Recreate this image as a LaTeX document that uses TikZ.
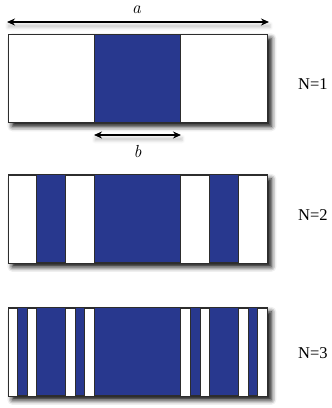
\documentclass[tikz,border=0pt]{standalone}
\usepackage{fontspec}
\newfontfamily\timesfont{Liberation Serif}
\usetikzlibrary{shadows.blur,arrows.meta}
\definecolor{stripblue}{RGB}{40,56,142}
\definecolor{edgegray}{RGB}{45,45,45}
\begin{document}
\begin{tikzpicture}[x=1pt,y=-1pt,
  bar/.style={fill=white,draw=edgegray,line width=0.7pt,inner sep=0pt,
    minimum width=259pt,minimum height=88pt,anchor=north west,
    blur shadow={shadow xshift=4pt,shadow yshift=-4pt,
      shadow blur radius=5pt,shadow opacity=100}},
  strip/.style={fill=stripblue,draw=edgegray,line width=0.6pt},
  rim/.style={draw=edgegray,line width=0.7pt},
  dim/.style={{Stealth[length=8pt,width=7pt]}-{Stealth[length=8pt,width=7pt]},line width=1.2pt},
  softshade/.style={blur shadow={shadow xshift=1pt,shadow yshift=-4pt,
      shadow blur radius=3pt,shadow opacity=22}},
  lbl/.style={font=\timesfont\fontsize{16.5}{18}\selectfont,anchor=west,inner sep=0pt},
  var/.style={font=\fontsize{17.5}{20}\selectfont\itshape,inner sep=0pt}]
\useasboundingbox (0,0) rectangle (332,408);

% the three bars (Cantor construction, levels 1 to 3)
\node[bar] (r1) at (8,34) {};
\node[bar] (r2) at (8,174.5) {};
\node[bar] (r3) at (8,307.5) {};

% level 1: middle third
\foreach \y in {34,174.5,307.5}
  \path[strip] (94.33,\y) rectangle (180.67,\y+88);
% level 2: middle thirds of the outer pieces
\foreach \y in {174.5,307.5}{
  \path[strip] (36.78,\y) rectangle (65.56,\y+88);
  \path[strip] (209.44,\y) rectangle (238.22,\y+88);
}
% level 3
\foreach \a/\b in {17.59/27.19,75.15/84.74,190.26/199.85,247.81/257.41}
  \path[strip] (\a,307.5) rectangle (\b,395.5);

% outlines on top
\foreach \r in {r1,r2,r3}
  \path[rim] (\r.north west) rectangle (\r.south east);

% dimension arrows with a soft shade underneath
\coordinate (aL) at (7,22);
\coordinate (aR) at (269,22);
\path[softshade] ([yshift=1.5pt]aL) rectangle ([yshift=-1.5pt]aR);
\draw[dim] (aL) -- (aR);
\node[var] (la) at (136.5,10) {a};

\coordinate (bL) at (94,135);
\coordinate (bR) at (181,135);
\path[softshade] ([yshift=1.5pt]bL) rectangle ([yshift=-1.5pt]bR);
\draw[dim] (bL) -- (bR);
\node[var] (lb) at (137.5,152) {b};

% level labels
\node[lbl] (n1) at (298,84) {N=1};
\node[lbl] (n2) at (298,215.5) {N=2};
\node[lbl] (n3) at (298,353) {N=3};
\end{tikzpicture}
\end{document}
